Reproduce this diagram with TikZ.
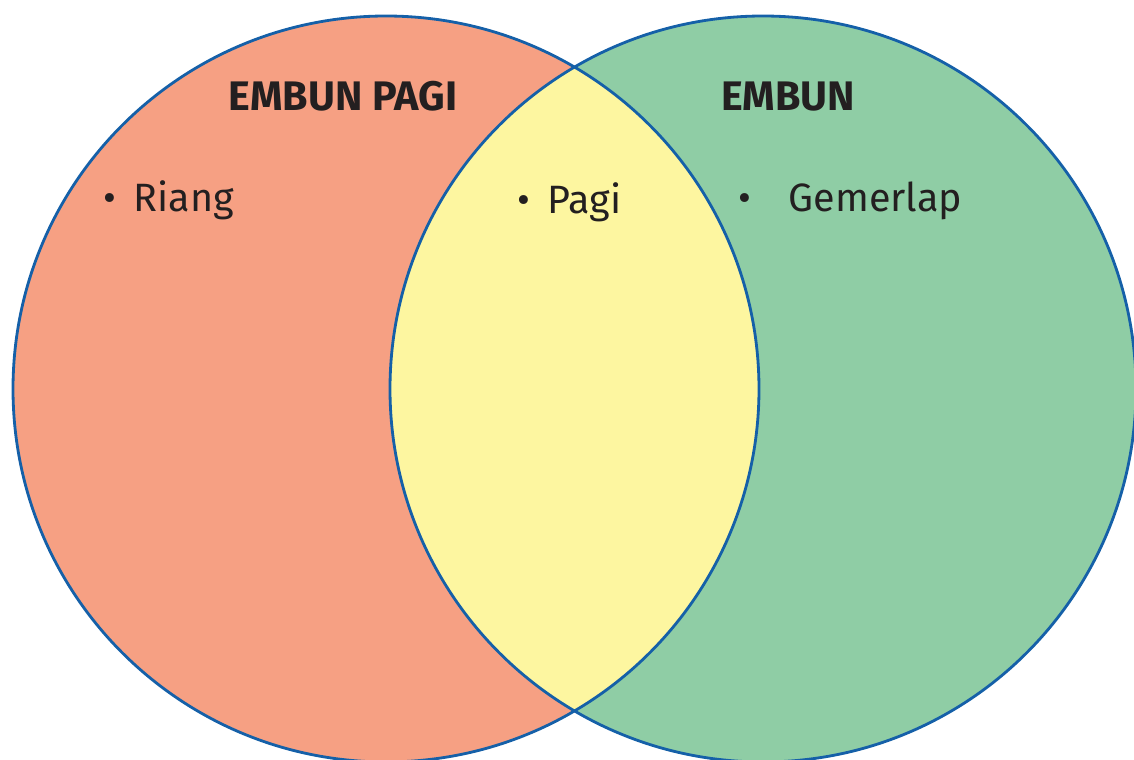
\documentclass[tikz,border=0pt]{standalone}
\usepackage{fontspec}
\setmainfont{Fira Sans}
\usepackage{xcolor}
\usepackage{tikz}
\usetikzlibrary{positioning}

\definecolor{salmon}{HTML}{F6A083}
\definecolor{lemon}{HTML}{FDF6A0}
\definecolor{mint}{HTML}{8FCDA5}
\definecolor{rim}{HTML}{1560A8}
\definecolor{ink}{HTML}{231F20}

\begin{document}
\begin{tikzpicture}[
    x=0.02cm, y=-0.02cm,
    rimline/.style={draw=rim, line width=1.6pt},
    title/.style={font=\fontsize{23.5}{26}\selectfont\bfseries, text=ink, anchor=base, inner sep=0pt},
    item/.style={font=\fontsize{22.5}{26}\selectfont, text=ink, anchor=base west, inner sep=0pt},
]
\useasboundingbox (0,0) rectangle (1134,760);
\clip (0,0) rectangle (1134,760);

% the two sets
\coordinate (cl) at (386,389);
\coordinate (cr) at (763,389);
\fill[salmon] (cl) circle[radius=373];
\fill[mint] (cr) circle[radius=373];
\begin{scope}
  \clip (cl) circle[radius=373];
  \fill[lemon] (cr) circle[radius=373];
\end{scope}
\draw[rimline] (cl) circle[radius=373];
\draw[rimline] (cr) circle[radius=373];

% headings
\node[title] (pagihead) at (343,111) {EMBUN PAGI};
\node[title] (embunhead) at (788,111) {EMBUN};

% items
\node[item] (riang) at (103,212) {\textbullet\hspace{0.45em}Riang};
\node[item] (pagi) at (517,214) {\textbullet\hspace{0.45em}Pagi};
\node[item] (gemerlap) at (738,212) {\textbullet\hspace{0.95em}Gemerlap};

\end{tikzpicture}
\end{document}
